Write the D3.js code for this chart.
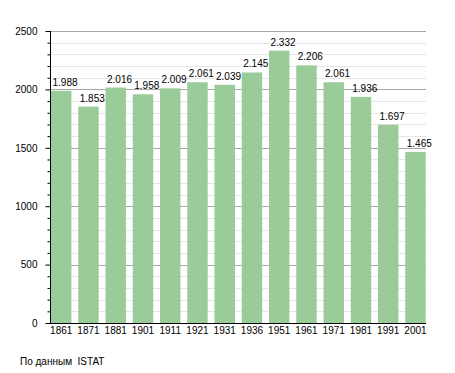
<!DOCTYPE html>
<html>
<head>
<meta charset="utf-8">
<script src="https://cdn.jsdelivr.net/npm/d3@7"></script>
<style>
  body { margin: 0; background: #fff; }
  svg text { font-family: "Liberation Sans", Arial, sans-serif; fill: #000; }
</style>
</head>
<body>
<svg id="chart" width="455" height="373"></svg>
<script>
const years = ['1861', '1871', '1881', '1901', '1911', '1921', '1931', '1936', '1951', '1961', '1971', '1981', '1991', '2001'];
const population = [1988, 1853, 2016, 1958, 2009, 2061, 2039, 2145, 2332, 2206, 2061, 1936, 1697, 1465];
const yTicks = [0, 500, 1000, 1500, 2000, 2500];
const source = 'По данным  ISTAT';

const svg = d3.select('#chart');
const plotLeft = 50, plotRight = 426, plotTop = 31, plotBottom = 323;

const x = d3.scaleBand().domain(years).range([51, 425.7]).paddingInner(0.25).paddingOuter(0);
const y = d3.scaleLinear().domain([0, 2500]).range([plotBottom, plotTop]);

const fmt = (v) => d3.format(',')(v).replace(/,/g, '.');

// grid
const minor = d3.range(0, 2501, 100);
svg.append('g')
  .selectAll('line')
  .data(minor)
  .enter()
  .append('line')
  .attr('x1', plotLeft)
  .attr('x2', plotRight)
  .attr('y1', (d) => Math.round(y(d)) + 0.5)
  .attr('y2', (d) => Math.round(y(d)) + 0.5)
  .attr('stroke', (d) => (d % 500 === 0 ? '#a8a8a8' : '#e6e6e6'))
  .attr('stroke-width', 1);

// bars
svg.append('g')
  .selectAll('rect')
  .data(years)
  .enter()
  .append('rect')
  .attr('x', (d) => x(d))
  .attr('width', x.bandwidth())
  .attr('y', (d, i) => y(population[i]))
  .attr('height', (d, i) => plotBottom - y(population[i]))
  .attr('fill', '#99cc99');

// value labels
svg.append('g')
  .selectAll('text')
  .data(years)
  .enter()
  .append('text')
  .attr('x', (d) => x(d) + 1.5)
  .attr('y', (d, i) => y(population[i]) - 5)
  .attr('font-size', 10)
  .text((d, i) => fmt(population[i]));

// left axis with minor ticks
const yAxis = d3.axisLeft(y).tickValues(yTicks).tickSize(5).tickPadding(8).tickFormat((d) => d);
const ya = svg.append('g').attr('transform', `translate(${plotLeft + 0.5},0)`).call(yAxis);
ya.select('.domain').remove();
ya.selectAll('.tick line').attr('stroke', '#000');
ya.selectAll('text').attr('font-size', 10).attr('font-family', '"Liberation Sans", Arial, sans-serif');
svg.append('g')
  .attr('transform', `translate(${plotLeft + 0.5},0)`)
  .call(d3.axisLeft(y).tickValues(minor.filter((d) => d % 500 !== 0)).tickSize(3).tickFormat(''))
  .call((g) => g.select('.domain').remove())
  .selectAll('line')
  .attr('stroke', '#000');

svg.append('line')
  .attr('x1', plotLeft + 0.5).attr('x2', plotLeft + 0.5)
  .attr('y1', plotTop).attr('y2', plotBottom + 0.5)
  .attr('stroke', '#000');
svg.append('line')
  .attr('x1', plotLeft).attr('x2', plotRight)
  .attr('y1', plotBottom + 0.5).attr('y2', plotBottom + 0.5)
  .attr('stroke', '#000');

// year labels
svg.append('g')
  .selectAll('text')
  .data(years)
  .enter()
  .append('text')
  .attr('x', (d) => x(d) + x.bandwidth() / 2)
  .attr('y', 334)
  .attr('text-anchor', 'middle')
  .attr('font-size', 10)
  .text((d) => d);

svg.append('text')
  .attr('x', 20)
  .attr('y', 365)
  .attr('font-size', 10)
  .style('white-space', 'pre')
  .text(source);
</script>
</body>
</html>
